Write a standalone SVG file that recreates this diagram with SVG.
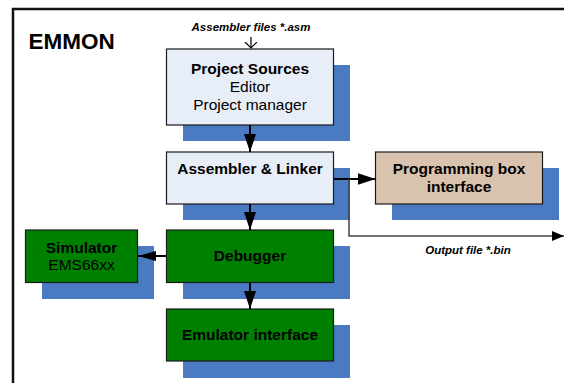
<svg xmlns="http://www.w3.org/2000/svg" width="564" height="383" viewBox="0 0 564 383">
<style>
text{font-family:"Liberation Sans",Arial,sans-serif;fill:#000}
.b{font-weight:bold;font-size:15.5px}
.r{font-size:15.5px}
.lab{font-weight:bold;font-style:italic;font-size:11.5px}
.sh{fill:#4A7AC2}
.box{stroke:#1a1a1a;stroke-width:1.2}
.lb{fill:#E8EEF8}
.gr{fill:#008000}
.tan{fill:#D9C2AE}
.c{stroke:#000;stroke-width:2;fill:none}
.g{stroke:#444;stroke-width:1.5;fill:none}
</style>
<defs>
<marker id="ah" markerUnits="userSpaceOnUse" markerWidth="20" markerHeight="14" refX="18" refY="6" orient="auto"><path d="M0,0 L18,6 L0,12 Z" fill="#000"/></marker>
<marker id="ahs" markerUnits="userSpaceOnUse" markerWidth="14" markerHeight="12" refX="12" refY="5" orient="auto"><path d="M0,0 L12,5 L0,10 Z" fill="#000"/></marker>
<marker id="ahm" markerUnits="userSpaceOnUse" markerWidth="20" markerHeight="12" refX="18" refY="5" orient="auto"><path d="M0,0 L18,5 L0,10 Z" fill="#000"/></marker>
<marker id="av" markerUnits="userSpaceOnUse" markerWidth="8" markerHeight="14" refX="6" refY="6" orient="auto"><path d="M0,0 L6,6 L0,12" fill="none" stroke="#000" stroke-width="1.2"/></marker>
</defs>
<rect width="564" height="383" fill="#fff"/>
<path d="M13,386 V9 H567" fill="none" stroke="#111" stroke-width="2.5"/>
<text x="28.5" y="48.5" style="font-weight:bold;font-size:22.5px">EMMON</text>
<text class="lab" x="251" y="31" text-anchor="middle">Assembler files *.asm</text>

<g id="project-sources">
<rect class="sh" x="183" y="65" width="167" height="76"/>
<rect class="box lb" x="166.5" y="49" width="167" height="76"/>
<text class="b" x="250" y="73.5" text-anchor="middle">Project Sources</text>
<text class="r" x="250" y="92" text-anchor="middle">Editor</text>
<text class="r" x="250" y="110" text-anchor="middle">Project manager</text>
</g>
<g id="assembler-linker">
<rect class="sh" x="183" y="168" width="167" height="52"/>
<rect class="box lb" x="166.5" y="152" width="167" height="52"/>
<text class="b" x="250" y="174" text-anchor="middle">Assembler &amp; Linker</text>
</g>
<g id="programming-box">
<rect class="sh" x="392" y="168" width="167" height="52"/>
<rect class="box tan" x="375.5" y="152" width="167" height="52"/>
<text class="b" x="459" y="174" text-anchor="middle">Programming box</text>
<text class="b" x="459" y="192" text-anchor="middle">interface</text>
</g>
<g id="debugger">
<rect class="sh" x="183" y="246" width="167" height="53"/>
<rect class="box gr" x="166.5" y="230" width="167" height="52.5"/>
<text class="b" x="250" y="261" text-anchor="middle">Debugger</text>
</g>
<g id="simulator">
<rect class="sh" x="42" y="246" width="112" height="53"/>
<rect class="box gr" x="25.5" y="230" width="112" height="52.5"/>
<text class="b" x="81.5" y="252.5" text-anchor="middle">Simulator</text>
<text class="r" x="81.5" y="269.5" text-anchor="middle">EMS66xx</text>
</g>
<g id="emulator-interface">
<rect class="sh" x="183" y="325" width="167" height="53"/>
<rect class="box gr" x="166.5" y="309" width="167" height="52"/>
<text class="b" x="250" y="339.5" text-anchor="middle">Emulator interface</text>
</g>

<g id="connectors">
<path d="M251,37 V48" stroke="#000" stroke-width="1.2" marker-end="url(#av)"/>
<path class="c" d="M250,125 V152" marker-end="url(#ah)"/>
<path class="c" d="M334,179 H375.5" marker-end="url(#ah)"/>
<path class="g" d="M349,179 V236 H564" marker-end="url(#ahs)"/>
<path class="c" d="M250,204 V230" marker-end="url(#ah)"/>
<path class="c" d="M166,256 H138" marker-end="url(#ahm)"/>
<path class="c" d="M250,282.5 V309" marker-end="url(#ah)"/>
</g>
<text class="lab" x="468" y="253.5" text-anchor="middle">Output file *.bin</text>
</svg>
